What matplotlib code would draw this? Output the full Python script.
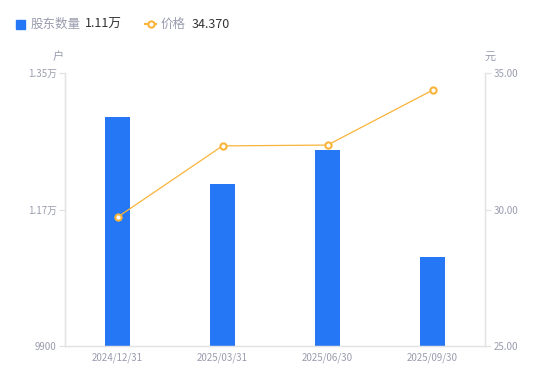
import numpy as np
import matplotlib
matplotlib.use("Agg")
import matplotlib.pyplot as plt
from matplotlib.lines import Line2D
from matplotlib.patches import Rectangle
from matplotlib.ticker import FixedLocator, FuncFormatter

plt.rcParams['font.family'] = ['Noto Sans CJK SC', 'DejaVu Sans']

dates = ["2024/12/31", "2025/03/31", "2025/06/30", "2025/09/30"]
holders = [12920, 12040, 12490, 11070]
prices = [29.72, 32.33, 32.36, 34.37]
left_ticks = [9900, 11700, 13500]
right_ticks = [25.0, 30.0, 35.0]

BLUE = "#2577F5"
ORANGE = "#F9B43A"
GRAY = "#9A9CAE"
AXIS = "#E3E3E3"
DARK = "#333333"


def wan(v, pos=None):
    if v >= 10000:
        return f"{v / 10000:.2f}万"
    return f"{int(round(v))}"


W, H = 550, 381
fig = plt.figure(figsize=(W / 100, H / 100), dpi=100)
ax = fig.add_axes([65 / W, (H - 346) / H, 420 / W, 273 / H])
ax2 = ax.twinx()

x = np.arange(len(dates))
ax.bar(x, holders, width=0.24, color=BLUE, zorder=2)
ax.set_xlim(-0.5, len(dates) - 0.5)
ax.set_ylim(left_ticks[0], left_ticks[-1])
ax.yaxis.set_major_locator(FixedLocator(left_ticks))
ax.yaxis.set_major_formatter(FuncFormatter(wan))
ax.set_xticks(x)
ax.set_xticklabels(dates)

ax2.plot(x, prices, color=ORANGE, lw=0.9, marker="o", ms=4.5,
         mfc="white", mec=ORANGE, mew=1.5, zorder=3)
ax2.set_ylim(right_ticks[0], right_ticks[-1])
ax2.yaxis.set_major_locator(FixedLocator(right_ticks))
ax2.yaxis.set_major_formatter(FuncFormatter(lambda v, p: f"{v:.2f}"))

for a in (ax, ax2):
    for s in a.spines.values():
        s.set_color(AXIS)
        s.set_linewidth(0.9)
    a.spines["top"].set_visible(False)
    a.tick_params(axis="y", colors=AXIS, labelcolor=GRAY, labelsize=7,
                  length=4, width=0.9, pad=2)
ax.tick_params(axis="x", length=0, labelcolor=GRAY, labelsize=7, pad=5)

fig.text(58 / W, 1 - 57 / H, "户", color=GRAY, fontsize=8, ha="center", va="center")
fig.text(490 / W, 1 - 57 / H, "元", color=GRAY, fontsize=8, ha="center", va="center")

# legend
ly = 1 - 24 / H
fig.add_artist(Rectangle((16 / W, ly - 4.5 / H), 9 / W, 9 / H,
                         transform=fig.transFigure, color=BLUE))
fig.text(31 / W, ly, "股东数量", color=GRAY, fontsize=9, va="center")
fig.text(85 / W, ly, "1.11万", color=DARK, fontsize=9, va="center")
fig.add_artist(Line2D([145 / W, 156 / W], [ly, ly], transform=fig.transFigure,
                      color=ORANGE, lw=1.5))
fig.add_artist(Line2D([150.5 / W], [ly], transform=fig.transFigure, color=ORANGE,
                      marker="o", ms=4.5, mfc="white", mec=ORANGE, mew=1.5))
fig.text(161 / W, ly, "价格", color=GRAY, fontsize=9, va="center")
fig.text(192 / W, ly, "34.370", color=DARK, fontsize=9, va="center")

fig.savefig("out.png", dpi=100)
